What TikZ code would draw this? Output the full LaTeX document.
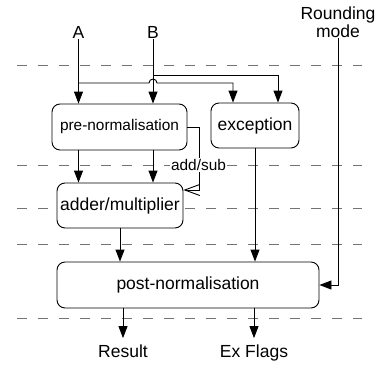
\documentclass[tikz,border=0pt]{standalone}
\usepackage{fontspec}
\setmainfont{Liberation Sans}
\usetikzlibrary{arrows.meta}
\begin{document}
\begin{tikzpicture}[x=1pt,y=-1pt,
  box/.style={draw, rounded corners=8pt, fill=white, line width=0.9pt, inner sep=0pt},
  wire/.style={line width=0.9pt},
  arr/.style={wire, -{Triangle[length=12pt,width=9pt]}},
  dashline/.style={draw=gray!90!black, line width=0.9pt, dash pattern=on 10pt off 11pt},
  big/.style={font=\fontsize{17.5}{18.5}\selectfont},
  small/.style={font=\fontsize{15.4}{17}\selectfont},
  lbl/.style={big, inner sep=0pt}
]
\useasboundingbox (0,0) rectangle (380,369);
% dashed stage separators
\foreach \yy in {65,165,208,244,318}
  \draw[dashline] (17,\yy) -- (362,\yy);
% blocks
\node[box, small, minimum width=135pt, minimum height=46pt] (pre) at (119.5,127) {pre-normalisation};
\node[box, big, minimum width=88pt, minimum height=45pt] (exc) at (255,125.5) {exception};
\node[box, big, minimum width=126pt, minimum height=45pt] (add) at (120,205.5) {adder/multiplier};
\node[box, big, minimum width=262pt, minimum height=46pt] (post) at (188,285) {post-normalisation};
% labels
\node[lbl, anchor=base] (A) at (78.5,39) {A};
\node[lbl, anchor=base] (B) at (153,39) {B};
\node[lbl, align=center, anchor=south] (rm) at (338,38) {Rounding\\mode};
\node[lbl, anchor=base] (res) at (123,357) {Result};
\node[lbl, anchor=base] (flg) at (254,357) {Ex Flags};
% inputs
\coordinate (ja) at (78.5,83);
\coordinate (jb) at (153,75);
\draw[arr] (A.south) -- (pre.north -| A);
\draw[arr] (B.south) -- (pre.north -| B);
\draw[arr] (ja) -- (149,83) arc[start angle=180, end angle=0, radius=4pt] -| ([xshift=-22pt]exc.north);
\draw[arr] (jb) -| ([xshift=23pt]exc.north);
% pre -> adder
\draw[arr] (pre.south -| A) -- (add.north -| A);
\draw[arr] (pre.south -| B) -- (add.north -| B);
% add/sub control
\draw[wire, -{Straight Barb[length=15pt,width=11pt]}] (pre.east) -- ++(12,0) |- ([yshift=15.5pt]add.east);
\node[small, fill=white, inner sep=1pt] (as) at (198.5,165) {add/sub};
% to post-normalisation
\draw[arr] (add.south) -- (post.north -| add.south);
\draw[arr] (exc.south) -- (post.north -| exc.south);
\draw[arr] (rm.south) |- (post.east);
% outputs
\draw[arr] (post.south -| res) -- ([yshift=6pt]res.north);
\draw[arr] (post.south -| flg) -- ([yshift=6pt]flg.north);
\end{tikzpicture}
\end{document}
